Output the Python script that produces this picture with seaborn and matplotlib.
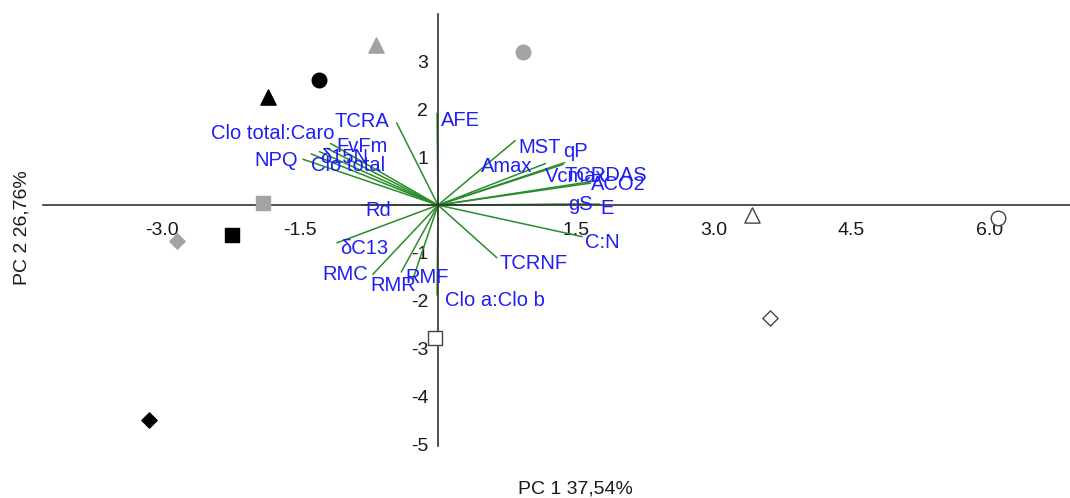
import matplotlib
matplotlib.use("Agg")
import matplotlib.pyplot as plt
import numpy as np
import pandas as pd
import seaborn as sns

# ---- sample scores (PC1, PC2) ----
score_pc1 = [-1.85, -1.30, -2.24, -3.15,
             -0.68, 0.92, -1.91, -2.84,
             3.42, 6.10, -0.03, 3.61]
score_pc2 = [2.26, 2.62, -0.63, -4.50,
             3.35, 3.20, 0.04, -0.75,
             -0.21, -0.26, -2.78, -2.37]
score_group = ["black"] * 4 + ["gray"] * 4 + ["open"] * 4
score_shape = ["triangle", "circle", "square", "diamond"] * 3

# ---- variable loadings (PC1, PC2) ----
var_names = ["TCRA", "AFE", "Clo total:Caro", "FvFm", "\u03b415N", "Clo total",
             "NPQ", "Rd", "\u03b4C13", "RMC", "RMF", "RMR", "Clo a:Clo b",
             "TCRNF", "C:N", "E", "gS", "ACO2", "TCRDAS", "Vcmax", "qP",
             "Amax", "MST"]
load_pc1 = [-0.45, -0.01, -1.17, -1.21, -1.29, -1.38,
            -1.47, -0.83, -1.10, -0.71, -0.40, -0.27, -0.01,
            0.64, 1.57, 1.76, 1.66, 1.66, 1.76, 1.36, 1.38,
            1.17, 0.84]
load_pc2 = [1.72, 1.92, 1.29, 1.19, 1.12, 1.07,
            0.96, 0.00, -0.79, -1.45, -1.40, -1.53, -1.88,
            -1.10, -0.66, 0.02, 0.02, 0.46, 0.52, 0.85, 0.89,
            0.87, 1.35]

x_ticks = [-3.0, -1.5, 1.5, 3.0, 4.5, 6.0]
y_ticks = [-5, -4, -3, -2, -1, 1, 2, 3]
x_title = "PC 1 37,54%"
y_title = "PC 2 26,76%"

# label placement: (horizontal alignment, dx px, dy px) relative to vector tip
label_layout = {
    "TCRA": ("right", -7, 1), "AFE": ("left", 4, -7),
    "Clo total:Caro": ("right", 4, 10), "FvFm": ("left", 10, 2),
    "\u03b415N": ("left", 1, -6), "Clo total": ("left", 0, -12),
    "NPQ": ("right", -5, -1), "Rd": ("left", 4, -5),
    "\u03b4C13": ("left", 3, -6), "RMC": ("right", -5, 0),
    "RMF": ("left", 4, -5), "RMR": ("right", 3, -7),
    "Clo a:Clo b": ("left", 8, -6), "TCRNF": ("left", 3, -6),
    "C:N": ("left", 3, -6), "E": ("left", 1, -4), "gS": ("right", 2, 0),
    "ACO2": ("left", 0, -1), "TCRDAS": ("left", -35, 5),
    "Vcmax": ("left", -18, -12), "qP": ("left", -2, 11),
    "Amax": ("right", -13, -3), "MST": ("left", 3, -7),
}

sns.set_theme(style="white")
plt.rcParams["font.family"] = ["Liberation Sans", "DejaVu Sans"]

W, H = 1070, 498
fig = plt.figure(figsize=(W / 100, H / 100), dpi=100)
ax_left, ax_right, ax_top, ax_bottom = 43, 1070, 14, 446.4
ax = fig.add_axes([ax_left / W, 1 - ax_bottom / H,
                   (ax_right - ax_left) / W, (ax_bottom - ax_top) / H])
ax.set_xlim(-4.30, 6.88)
ax.set_ylim(-5.05, 4.0)

# loading vectors
vec_color = "#2a8c2a"
for name, lx, ly in zip(var_names, load_pc1, load_pc2):
    ax.plot([0, lx], [0, ly], color=vec_color, lw=1.1, zorder=2)
    ha, dx, dy = label_layout[name]
    ax.annotate(name, (lx, ly), xytext=(dx, dy), textcoords="offset pixels",
                ha=ha, va="center", color="#1f1ff5", fontsize=14.5, zorder=4)

# sample scores
scores = pd.DataFrame({"pc1": score_pc1, "pc2": score_pc2,
                       "group": score_group, "shape": score_shape})
marker_map = {"triangle": "^", "circle": "o", "square": "s", "diamond": "D"}
size_map = {"triangle": 120, "circle": 110, "square": 95, "diamond": 60}
group_style = {"black": ("black", "black"),
               "gray": ("#a3a3a3", "#a3a3a3"),
               "open": ("white", "#444444")}
for grp, (face, edge) in group_style.items():
    for shp, mk in marker_map.items():
        sub = scores[(scores["group"] == grp) & (scores["shape"] == shp)]
        sns.scatterplot(data=sub, x="pc1", y="pc2", marker=mk,
                        s=size_map[shp], color=face, edgecolor=edge,
                        linewidth=1.0, legend=False, ax=ax, zorder=3)

# axes crossing at the origin
for side in ("top", "right"):
    ax.spines[side].set_visible(False)
ax.spines["left"].set_position(("data", 0))
ax.spines["bottom"].set_position(("data", 0))
for side in ("left", "bottom"):
    ax.spines[side].set_color("#333333")
    ax.spines[side].set_linewidth(1.2)

ax.set_xticks(x_ticks)
ax.set_xticklabels([f"{v:.1f}" for v in x_ticks])
ax.set_yticks(y_ticks)
ax.set_yticklabels([str(v) for v in y_ticks])
ax.tick_params(axis="x", direction="out", length=5, width=1, color="#333333",
               labelsize=14, pad=7, labelcolor="#1a1a1a")
ax.tick_params(axis="y", direction="out", length=5, width=1, color="#333333",
               labelsize=14, pad=2, labelcolor="#1a1a1a")

ax.set_xlabel(x_title, fontsize=14, color="#1a1a1a")
ax.xaxis.set_label_coords((575 - ax_left) / (ax_right - ax_left),
                          (ax_bottom - 480) / (ax_bottom - ax_top))
ax.set_ylabel(y_title, fontsize=14, color="#1a1a1a")
ax.yaxis.label.set_va("center")
ax.yaxis.set_label_coords((22 - ax_left) / (ax_right - ax_left),
                          (ax_bottom - 228) / (ax_bottom - ax_top))
ax.grid(False)

fig.savefig("out.png", dpi=100)
